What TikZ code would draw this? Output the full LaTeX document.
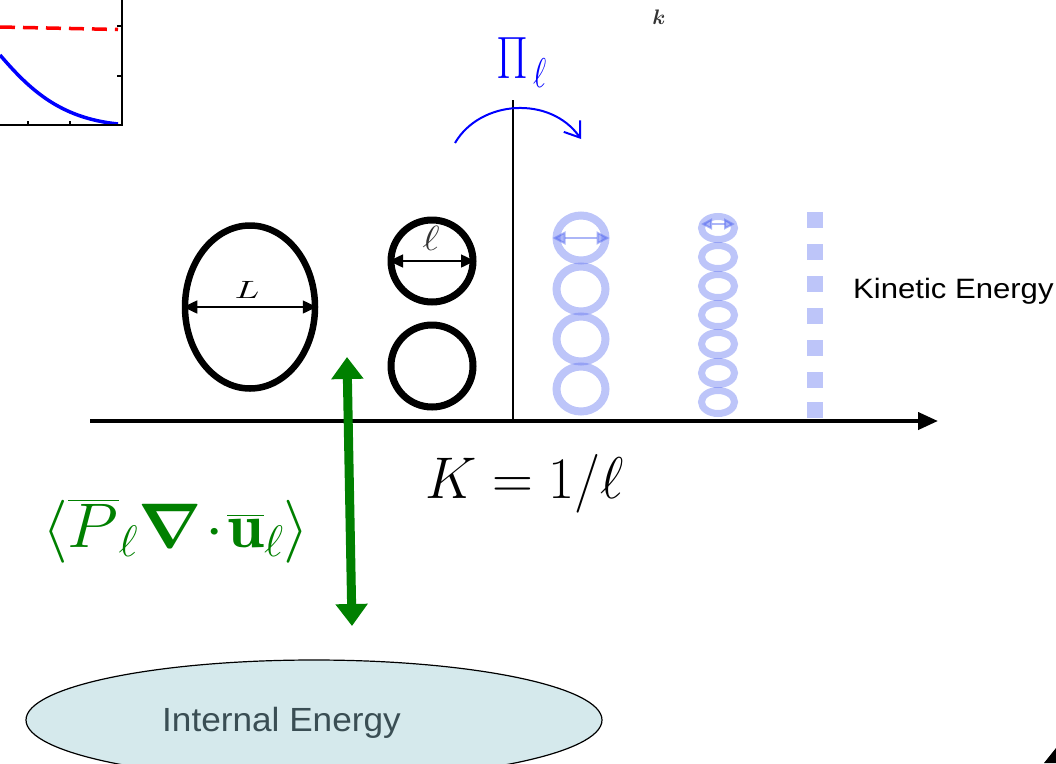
\RequirePackage{fix-cm}
\documentclass[tikz,border=0pt]{standalone}
\usepackage{amsmath}
\usepackage{fontspec}
\newfontfamily\arialf{Liberation Sans}
\usetikzlibrary{arrows.meta,shapes.geometric}
\definecolor{lblue}{RGB}{90,110,240}
\definecolor{iegray}{RGB}{58,78,84}
\definecolor{iefill}{RGB}{213,233,236}
\definecolor{dgreen}{RGB}{0,128,0}
\tikzset{
  ring/.style={draw, ellipse, inner sep=0, line width=6.5},
  bring/.style={draw=lblue, draw opacity=0.4, ellipse, inner sep=0, line width=8},
  sring/.style={draw=lblue, draw opacity=0.4, ellipse, inner sep=0, line width=7, minimum width=33, minimum height=23},
  bsq/.style={fill=lblue, fill opacity=0.4, rectangle, inner sep=0, minimum size=16},
  txt/.style={inner sep=0, anchor=base west},
  darrow/.style={line width=1.5, {Triangle[length=14pt,width=13pt]}-{Triangle[length=14pt,width=13pt]}},
}
\begin{document}
\begin{tikzpicture}[x=1pt,y=-1pt]
\clip (0,0) rectangle (1056,763);
% plot fragment
\draw[red, line width=3.5, dash pattern=on 15 off 8] (0,27) -- (118,29.5);
\draw[blue, line width=3.5] (0,55) .. controls (30,90) and (60,118) .. (118,124);
\draw[line width=1.8] (0,125) -- (122,125) -- (122,0);
\draw[line width=1.2] (28,125) -- (28,121) (70,125) -- (70,121) (122,26) -- (117,26) (122,76) -- (117,76);
\node[inner sep=0, anchor=base, text=black!80] (k) at (659,24) {\scalebox{2.1}{$\boldsymbol{k}$}};
% Pi label and arc
\node[txt, text=blue] (pi) at (496,78) {\scalebox{1}[1.3]{\fontsize{46}{50}\selectfont$\Pi$\hspace{5pt}\raisebox{-7.5pt}{\fontsize{32}{34}\selectfont$\ell$}}};
\coordinate (vtop) at (513,100);
\coordinate (vbot) at (513,421);
\draw[line width=1.5] (vtop) -- (vbot);
\coordinate (arcS) at (455,143);
\coordinate (arcE) at (581,139);
\draw[blue, line width=2, -{Straight Barb[length=14pt,width=20pt]}] (arcS) .. controls (480,100) and (550,95) .. (arcE);
% axis
\coordinate (ax0) at (90,421);
\coordinate (ax1) at (938,421);
\draw[line width=4, -{Triangle[length=20pt,width=17pt]}] (ax0) -- (ax1);
% big eddy
\node[ring, minimum width=130, minimum height=163] (bigL) at (250,307) {};
\draw[darrow, shorten <=1.5, shorten >=1.5] (bigL.west) -- (bigL.east);
\node[inner sep=0] (Llab) at (247,290) {\scalebox{3.6}[2.5]{$L$}};
% small eddies
\node[ring, circle, line width=7, minimum size=82] (c1) at (432,261) {};
\node[ring, circle, line width=7, minimum size=82] (c2) at (432,366) {};
\draw[darrow, shorten <=1.5, shorten >=1.5] (c1.west) -- (c1.east);
\node[text=black!80] (ell) at (431,238) {\scalebox{1.2}[1]{\fontsize{35}{37}\selectfont$\ell$}};
% blue rings column 1
\node[bring, minimum width=49, minimum height=45] (b1) at (581,238) {};
\node[bring, minimum width=49, minimum height=45] (b2) at (581,289) {};
\node[bring, minimum width=49, minimum height=45] (b3) at (581,339) {};
\node[bring, minimum width=49, minimum height=45] (b4) at (581,389) {};
\draw[lblue, opacity=0.5, line width=2, {Triangle[length=13pt,width=13pt]}-{Triangle[length=13pt,width=13pt]}] (b1.west) -- (b1.east);
% blue rings column 2
\foreach \i in {0,...,6}{
  \node[sring] (s\i) at (718,228+29*\i) {};
}
\coordinate (saL) at (701,224);
\coordinate (saR) at (735,224);
\draw[lblue, opacity=0.5, line width=2, {Triangle[length=11pt,width=11pt]}-{Triangle[length=11pt,width=11pt]}] (saL) -- (saR);
% squares
\foreach \i/\y in {0/220,1/252,2/284,3/316,4/348,5/380,6/410}{
  \node[bsq] (q\i) at (815,\y) {};
}
\node[txt] (ke) at (853,298) {\scalebox{1.11}[1]{\arialf\fontsize{28}{30}\selectfont Kinetic Energy}};
% K = 1/l
\node[txt] (kk) at (425,498) {\scalebox{1.03}[1.07]{\fontsize{55}{60}\selectfont$K=1/\ell$}};
% green formula and arrow
\node[txt, text=dgreen] (pdiv) at (42,547) {\scalebox{1.05}[1]{\fontsize{63}{66}\selectfont$\langle\overline{P}_\ell\boldsymbol{\nabla}\mkern1mu{\cdot}\mkern1mu\overline{\mathbf{u}}_\ell\rangle$}};
% internal energy
\node[draw, ellipse, fill=iefill, line width=1.2, minimum width=576, minimum height=120, inner sep=0] (ie) at (314,720) {};
\node[txt, text=iegray] (iet) at (162,731) {\scalebox{1.05}[1]{\arialf\fontsize{33.5}{36}\selectfont Internal Energy}};
\coordinate (gtop) at (347,357);
\coordinate (gbot) at (352,626);
\draw[dgreen, line width=9, {Triangle[length=22pt,width=31pt]}-{Triangle[length=22pt,width=31pt]}] (gtop) -- (gbot);
% corner fragment
\fill (1044,763) -- (1056,748) -- (1056,763) -- cycle;
\end{tikzpicture}
\end{document}
